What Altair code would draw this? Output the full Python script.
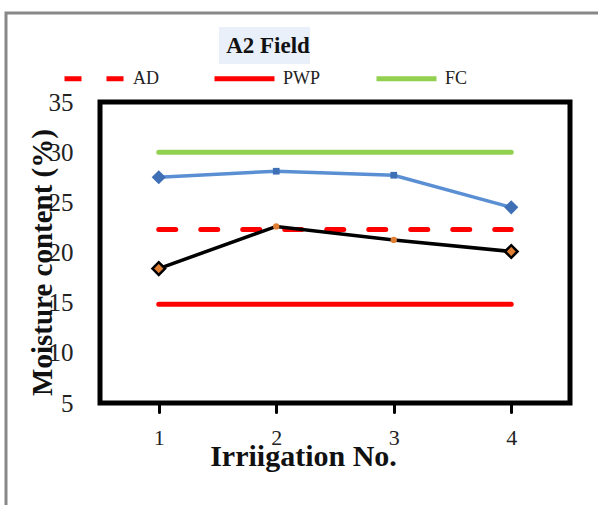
import altair as alt
import pandas as pd

# ---- data ----
irrigation = [1, 2, 3, 4]
series_blue = [27.5, 28.1, 27.7, 24.5]
series_black = [18.4, 22.6, 21.25, 20.1]
fc_vals = [30.0, 30.0, 30.0, 30.0]
ad_vals = [22.3, 22.3, 22.3, 22.3]
pwp_vals = [14.85, 14.85, 14.85, 14.85]
ref_names = ["AD", "PWP", "FC"]
y_ticks = [5, 10, 15, 20, 25, 30, 35]
end_marker = ["diamond", "mid", "mid", "diamond"]

FONT = "Liberation Serif"

ref_df = pd.concat([
    pd.DataFrame({"x": irrigation, "v": ad_vals, "name": "AD"}),
    pd.DataFrame({"x": irrigation, "v": pwp_vals, "name": "PWP"}),
    pd.DataFrame({"x": irrigation, "v": fc_vals, "name": "FC"}),
])
blue_df = pd.DataFrame({"x": irrigation, "v": series_blue, "m": end_marker})
black_df = pd.DataFrame({"x": irrigation, "v": series_black, "m": end_marker})

xs = alt.Scale(domain=[0.5, 4.5], nice=False, zero=False)
ys = alt.Scale(domain=[5, 35], nice=False, zero=False)

x_axis = alt.Axis(values=irrigation, format="d", grid=False, domain=False,
                  ticks=True, tickColor="black", tickWidth=3, tickSize=9,
                  tickCap="round", labelFont=FONT, labelFontSize=22,
                  labelColor="#222222", labelPadding=15,
                  title="Irriigation No.", titleFont=FONT, titleFontSize=30,
                  titleFontWeight="bold", titleColor="#111111",
                  titleX=203, titleY=62, titleAlign="center",
                  titleBaseline="alphabetic")
y_axis = alt.Axis(values=y_ticks, grid=False, domain=False, ticks=False,
                  labelFont=FONT, labelFontSize=25, labelColor="#222222",
                  labelPadding=27,
                  title="Moisture content (%)", titleFont=FONT, titleFontSize=29,
                  titleFontWeight="bold", titleColor="#111111",
                  titleX=-49, titleY=160, titleAlign="center",
                  titleBaseline="alphabetic", titleAngle=270)

X = alt.X("x:Q", scale=xs, axis=x_axis)
Y = alt.Y("v:Q", scale=ys, axis=y_axis)
Xn = alt.X("x:Q", scale=xs)
Yn = alt.Y("v:Q", scale=ys)

# outer grey frame and title background
frame = alt.Chart(pd.DataFrame({"a": [0]})).mark_rect(
    fill="white", fillOpacity=0, stroke="#888888", strokeWidth=3
).encode(x=alt.value(-94), x2=alt.value(520), y=alt.value(-89), y2=alt.value(430))

title_bg = alt.Chart(pd.DataFrame({"a": [0]})).mark_rect(
    fill="#e9f0f9"
).encode(x=alt.value(119), x2=alt.value(210), y=alt.value(-75), y2=alt.value(-38))

title = alt.Chart(pd.DataFrame({"t": ["A2 Field"]})).mark_text(
    font=FONT, fontSize=23, fontWeight="bold", color="#111111",
    align="center", baseline="middle"
).encode(text="t:N", x=alt.value(168), y=alt.value(-56))

refs = alt.Chart(ref_df).mark_line(strokeWidth=5, strokeCap="round").encode(
    x=X, y=Y,
    color=alt.Color("name:N", sort=ref_names,
                    scale=alt.Scale(domain=ref_names, range=["#FF0000", "#FF0000", "#92D050"]),
                    legend=alt.Legend(title=None)),
    strokeDash=alt.StrokeDash("name:N", sort=ref_names,
                              scale=alt.Scale(domain=ref_names, range=[[17, 25], [1, 0], [1, 0]]),
                              legend=alt.Legend(title=None)),
    detail="name:N",
)

blue_line = alt.Chart(blue_df).mark_line(color="#5B8FD3", strokeWidth=3.5).encode(x=Xn, y=Yn)
blue_dia = alt.Chart(blue_df).transform_filter(alt.datum.m == "diamond").mark_point(
    shape="diamond", filled=True, color="#3F70B5", size=200, opacity=1
).encode(x=Xn, y=Yn)
blue_sq = alt.Chart(blue_df).transform_filter(alt.datum.m == "mid").mark_point(
    shape="square", filled=True, color="#3F70B5", size=45, opacity=1
).encode(x=Xn, y=Yn)

black_line = alt.Chart(black_df).mark_line(color="#000000", strokeWidth=3.5).encode(x=Xn, y=Yn)
black_dia = alt.Chart(black_df).transform_filter(alt.datum.m == "diamond").mark_point(
    shape="diamond", filled=True, fill="#E07F33", stroke="#000000", strokeWidth=2.5,
    size=160, opacity=1
).encode(x=Xn, y=Yn)
black_dot = alt.Chart(black_df).transform_filter(alt.datum.m == "mid").mark_point(
    shape="circle", filled=True, color="#E07F33", size=40, opacity=1
).encode(x=Xn, y=Yn)

chart = alt.layer(
    frame, title_bg, title, refs, blue_line, blue_dia, blue_sq,
    black_line, black_dia, black_dot
).properties(
    width=470, height=301,
    autosize=alt.AutoSizeParams(type="none"),
    padding={"left": 100, "top": 102, "right": 28, "bottom": 102},
    background="white",
).configure_view(
    stroke="black", strokeWidth=5
).configure_legend(
    orient="none", legendX=-38, legendY=-56, direction="horizontal",
    symbolType="stroke", symbolSize=3600, symbolStrokeWidth=5,
    labelFont=FONT, labelFontSize=18, labelColor="#222222", labelOffset=6,
    columnPadding=45, labelLimit=200, padding=0,
)

chart.save("out.html", embed_options={"renderer": "svg", "actions": False})
